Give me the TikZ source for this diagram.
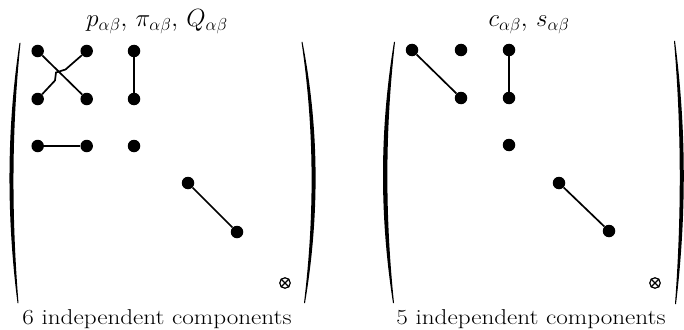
\documentclass[tikz,border=0pt]{standalone}
\usepackage{graphicx}
\begin{document}
\begin{tikzpicture}[x=1pt,y=-1pt,
  dot/.style={circle,fill=black,inner sep=0pt,minimum size=12.5pt},
  link/.style={line width=1.7pt},
  otimesnode/.style={circle,draw=black,line width=1.2pt,inner sep=0pt,minimum size=10.5pt},
  lbl/.style={anchor=base,inner sep=0pt,font=\fontsize{21.5}{26}\selectfont},
  toplbl/.style={anchor=base,inner sep=0pt,font=\fontsize{23}{27}\selectfont}]
\useasboundingbox (0,0) rectangle (684,329);
% ---------- left matrix ----------
\fill (19.5,43) .. controls (6.5,130) and (6.5,216) .. (17.5,303)
   -- (18.5,303) .. controls (11.5,216) and (11.5,130) .. (20.5,43) -- cycle;
\fill (302.5,42) .. controls (319.5,130) and (319.5,216) .. (305,303)
   -- (304,303) .. controls (314.5,216) and (314.5,130) .. (301.5,42) -- cycle;
\node[dot] (L11) at (37.7,51) {};
\node[dot] (L12) at (86.7,51) {};
\node[dot] (L13) at (134,51) {};
\node[dot] (L21) at (37.7,99) {};
\node[dot] (L22) at (86.7,99) {};
\node[dot] (L23) at (134,99) {};
\node[dot] (L31) at (37.7,146) {};
\node[dot] (L32) at (86.7,146) {};
\node[dot] (L33) at (134,146) {};
\node[dot] (L44) at (188,183) {};
\node[dot] (L55) at (237,232) {};
\node[otimesnode] (L66) at (285,283) {};
\draw[line width=1.1pt] (L66.45) -- (L66.225) (L66.135) -- (L66.-45);
\coordinate (h1) at (55,80.5);
\coordinate (h2) at (56,72.5);
\coordinate (h3) at (65.5,69.5);
\draw[link] (L11) -- (L22);
\draw[link] (L21) -- (h1) -- (h2) -- (h3) -- (L12);
\draw[link] (L13) -- (L23);
\draw[link] (L31) -- (L32);
\draw[link] (L44) -- (L55);
\node[toplbl] (Ltop) at (157,27) {$p_{\alpha\beta},\, \pi_{\alpha\beta},\, Q_{\alpha\beta}$};
\node[lbl] (Lbot) at (157,324.5) {\scalebox{1.17}[1]{6 independent components}};
% ---------- right matrix ----------
\fill (394,42) .. controls (379.5,130) and (379.5,216) .. (393,303)
   -- (394,303) .. controls (385,216) and (385,130) .. (395,42) -- cycle;
\fill (675,41) .. controls (686.5,130) and (686.5,216) .. (676,304)
   -- (675,304) .. controls (681.5,216) and (681.5,130) .. (674,41) -- cycle;
\node[dot] (R11) at (412,50) {};
\node[dot] (R12) at (461,50) {};
\node[dot] (R13) at (509,50) {};
\node[dot] (R22) at (461,98) {};
\node[dot] (R23) at (509,98) {};
\node[dot] (R33) at (509,145) {};
\node[dot] (R44) at (559,183) {};
\node[dot] (R55) at (609,231) {};
\node[otimesnode] (R66) at (655,283) {};
\draw[line width=1.1pt] (R66.45) -- (R66.225) (R66.135) -- (R66.-45);
\draw[link] (R11) -- (R22);
\draw[link] (R13) -- (R23);
\draw[link] (R44) -- (R55);
\node[toplbl] (Rtop) at (529,27) {$c_{\alpha\beta},\,s_{\alpha\beta}$};
\node[lbl] (Rbot) at (531,324.5) {\scalebox{1.17}[1]{5 independent components}};
\end{tikzpicture}
\end{document}
